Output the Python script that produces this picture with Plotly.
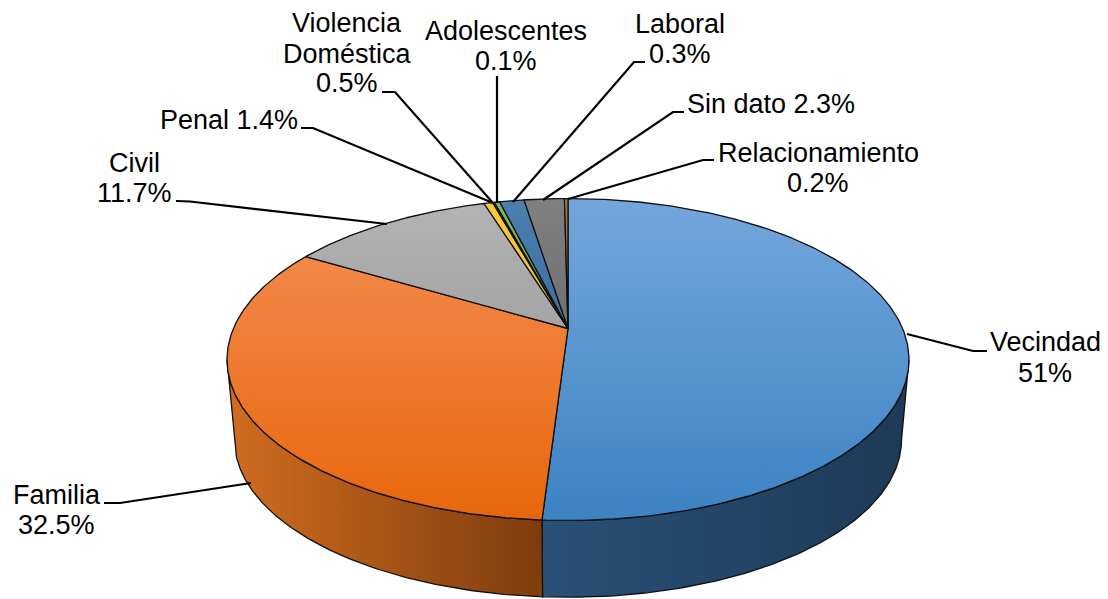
import math
import plotly.graph_objects as go

# slices in the order they run clockwise round the pie
categories = ["Vecindad", "Familia", "Civil", "Violencia Doméstica", "Adolescentes",
              "Laboral", "Penal", "Sin dato", "Relacionamiento"]
values = [51, 32.5, 11.7, 0.5, 0.1, 0.3, 1.4, 2.3, 0.2]

top_colors = [
    ["#74a6dc", "#3c83c4"], ["#f48f55", "#e8660c"], ["#b4b4b4", "#8c8c8c"],
    ["#fcc83c", "#f0a818"], ["#4472c4", "#3a62a8"], ["#82b85c", "#5f9a3c"],
    ["#4a7fb0", "#24598f"], ["#808080", "#5a5a5a"], ["#a87c30", "#604010"],
]
side_colors = {0: ["#2a5078", "#1e3a56"], 1: ["#cf6c1f", "#7f3d0c"]}

# projection of the pie disc onto the page
AX, AY, PX, PY, K = 334.6, 155.0, 568.0, 328.5, 0.1926
DEPTH, BOTTOM_SCALE = 81.0, 0.978


def project(theta, scale=1.0, dy=0.0):
    u, v = math.sin(theta), math.cos(theta)
    d = 1 + K * v
    return PX + scale * AX * u / d, PY + dy - scale * AY * v / d


def arc(a0, a1, scale=1.0, dy=0.0, step=math.radians(0.5)):
    n = max(2, int(abs(a1 - a0) / step) + 1)
    return [project(a0 + (a1 - a0) * i / (n - 1), scale, dy) for i in range(n)]


total = sum(values)
edges = [0.0]
for val in values:
    edges.append(edges[-1] + val / total * 2 * math.pi)

fig = go.Figure()


def poly(points, colors, orient, start, stop):
    xs = [p[0] for p in points] + [points[0][0]]
    ys = [p[1] for p in points] + [points[0][1]]
    fig.add_trace(go.Scatter(
        x=xs, y=ys, mode="lines", fill="toself",
        line=dict(color="#101010", width=1.3),
        fillgradient=dict(type=orient, colorscale=[[0, colors[0]], [1, colors[1]]],
                          start=start, stop=stop),
        hoverinfo="skip", showlegend=False))


# walls of the visible front slices
right_tan = math.acos(-K)
left_tan = 2 * math.pi - right_tan
for i, (a0, a1) in enumerate([(right_tan, edges[1]), (edges[1], left_tan)]):
    pts = arc(a0, a1) + arc(a1, a0, BOTTOM_SCALE, DEPTH)
    start, stop = (541, 905) if i == 0 else (232, 541)
    poly(pts, side_colors[i], "horizontal", start, stop)

# top faces
for i in range(len(values)):
    pts = [(PX, PY)] + arc(edges[i], edges[i + 1])
    poly(pts, top_colors[i], "vertical", 198, 520)

# leader lines, drawn from the label to the slice
leaders = [
    [(987, 351), (973, 351), (907, 334)],
    [(104, 503), (120, 503), (251, 483)],
    [(176, 201), (190, 201.5), (387, 224)],
    [(301, 128), (313, 128), (493, 203)],
    [(382, 92), (395, 92), (493, 203)],
    [(497, 76), (497, 203)],
    [(645, 62), (634, 62), (513, 202)],
    [(684, 112), (673, 112), (543, 200)],
    [(714, 160), (703, 160), (568, 199)],
]
for pts in leaders:
    fig.add_trace(go.Scatter(
        x=[p[0] for p in pts], y=[p[1] for p in pts], mode="lines",
        line=dict(color="#000000", width=2.2), hoverinfo="skip", showlegend=False))

# text lines: (text, centre x, centre y)
labels = [
    ("Vecindad", 1045, 342), ("51%", 1045, 373),
    ("Familia", 57, 495), ("32.5%", 56, 525),
    ("Civil", 134, 163), ("11.7%", 134, 193),
    ("Penal 1.4%", 229, 120),
    ("Violencia", 347, 23), ("Doméstica", 347, 54), ("0.5%", 347, 83),
    ("Adolescentes", 506, 31), ("0.1%", 506, 61),
    ("Laboral", 680, 24), ("0.3%", 680, 54),
    ("Sin dato 2.3%", 771, 104),
    ("Relacionamiento", 818, 153), ("0.2%", 818, 183),
]
annotations = [
    dict(text=t, x=x, y=y, xref="x", yref="y", showarrow=False,
         xanchor="center", yanchor="middle",
         font=dict(family="Liberation Sans", size=27, color="#000000"))
    for t, x, y in labels
]

fig.update_layout(
    width=1108, height=599, margin=dict(l=0, r=0, t=0, b=0),
    paper_bgcolor="white", plot_bgcolor="white", showlegend=False,
    xaxis=dict(range=[0, 1108], visible=False, fixedrange=True),
    yaxis=dict(range=[599, 0], visible=False, fixedrange=True),
    annotations=annotations,
)
fig.write_html("out.html", config={"displayModeBar": False},
               post_script="document.body.style.margin='0';document.documentElement.style.overflow='hidden';")
